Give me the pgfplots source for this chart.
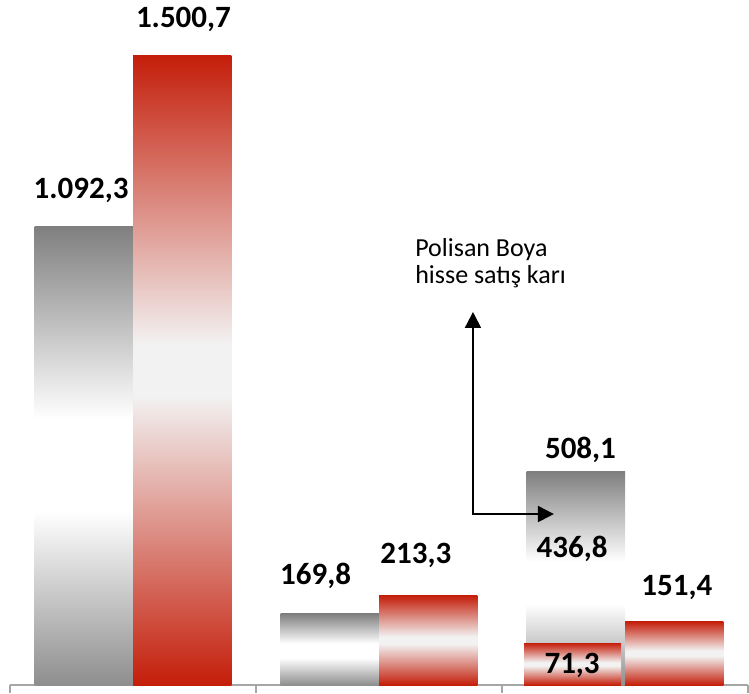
\documentclass[border=0pt]{standalone}
\usepackage{pgfplots}
\pgfplotsset{compat=1.18}
\usepackage{fontspec}
\setmainfont{Carlito}
\usetikzlibrary{arrows.meta}

\definecolor{grtop}{HTML}{7F7F7F}
\definecolor{grbot}{HTML}{8E8E8E}
\definecolor{rdtop}{HTML}{C41E0A}
\definecolor{rdmid}{HTML}{F2F2F2}
\definecolor{axgray}{HTML}{A6A6A6}

% the path box maps to 25bp..75bp of these shadings (bottom to top)
\pgfdeclareverticalshading{grayshade}{100bp}{color(0bp)=(grbot); color(25bp)=(grbot);
  color(44bp)=(white); color(54bp)=(white); color(75bp)=(grtop); color(100bp)=(grtop)}
\pgfdeclareverticalshading{redshade}{100bp}{color(0bp)=(rdtop); color(25bp)=(rdtop);
  color(48bp)=(rdmid); color(52bp)=(rdmid); color(75bp)=(rdtop); color(100bp)=(rdtop)}

\pgfplotsset{
  graybar/.style={ybar, bar width=0.4, bar shift=0pt, draw=none, shade, shading=grayshade},
  redbar/.style={ybar, bar width=0.4, bar shift=0pt, draw=none, shade, shading=redshade},
}
\newcommand{\vl}{\fontsize{15.5}{18}\selectfont\bfseries}

\begin{document}
\begin{tikzpicture}
\useasboundingbox (-5pt,-4pt) rectangle (369.5pt,342.5pt);
\begin{axis}[
    at={(0,0)}, anchor=south west,
    scale only axis,
    width=369pt, height=342.5pt,
    xmin=-0.5, xmax=2.5,
    ymin=0, ymax=1632.5,
    axis y line=none,
    axis x line=bottom,
    x axis line style={axgray, line width=1pt, -},
    xtick={-0.5,0.5,1.5,2.5},
    xticklabels={},
    tick align=outside,
    major tick length=4pt,
    xtick style={axgray, line width=1pt},
    ytick=\empty,
    clip=false,
]
% one plot per bar, so each bar gets its own gradient
\addplot[graybar] coordinates {(-0.2,1092.3)};
\addplot[redbar]  coordinates {(0.2,1500.7)};
\addplot[graybar] coordinates {(0.8,169.8)};
\addplot[redbar]  coordinates {(1.2,213.3)};
\addplot[graybar] coordinates {(1.8,508.1)};
\addplot[redbar]  coordinates {(2.2,151.4)};
% Polisan Boya part, drawn over the bottom of the third grey bar
\addplot[redbar, bar width=0.395] coordinates {(1.787,100)};

% value labels
\node[anchor=base, font=\vl] at (axis cs:-0.211,1160.6) {1.092,3};
\node[anchor=base, font=\vl] at (axis cs:0.205,1565.8) {1.500,7};
\node[anchor=base, font=\vl] at (axis cs:0.742,240.7) {169,8};
\node[anchor=base, font=\vl] at (axis cs:1.150,288.4) {213,3};
\node[anchor=base, font=\vl] at (axis cs:1.819,541) {508,1};
\node[anchor=base, font=\vl] at (axis cs:1.785,302.7) {436,8};
\node[anchor=base, font=\vl] at (axis cs:1.785,28.6) {71,3};
\node[anchor=base, font=\vl] at (axis cs:2.211,214.5) {151,4};

% annotation
\node[anchor=base west, inner sep=0pt, font=\fontsize{13}{15}\selectfont] at (axis cs:1.146,1022) {Polisan Boya};
\node[anchor=base west, inner sep=0pt, font=\fontsize{13}{15}\selectfont] at (axis cs:1.146,955.7) {hisse satış karı};
\draw[line width=1pt, {Triangle[length=8pt,width=8pt]}-{Triangle[length=8pt,width=8pt]}]
  (axis cs:1.382,889) -- (axis cs:1.382,407.5) -- (axis cs:1.711,407.5);
\end{axis}
\end{tikzpicture}
\end{document}
